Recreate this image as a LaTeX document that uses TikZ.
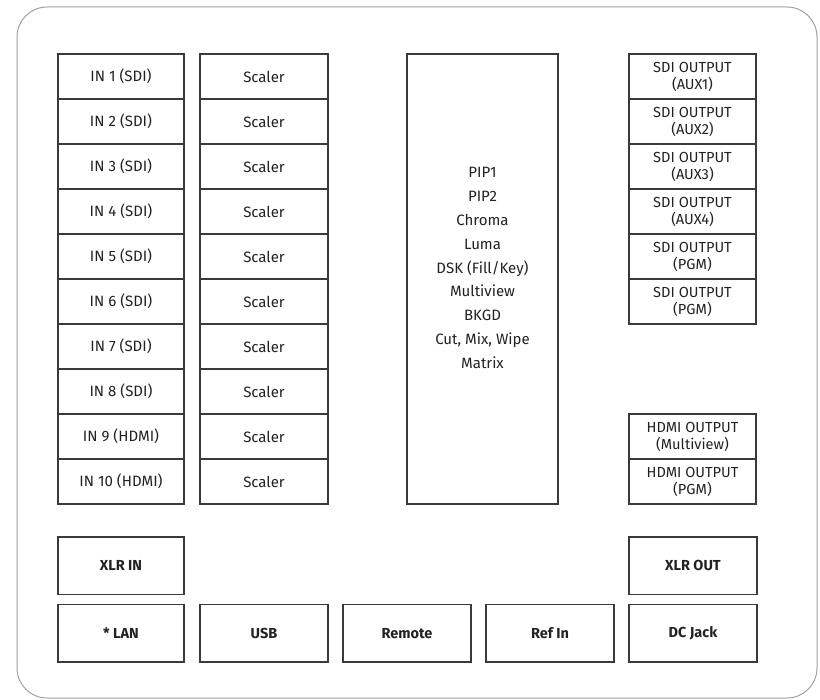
\documentclass[tikz,border=0pt]{standalone}
\usepackage{fontspec}
\setmainfont{Fira Sans}
\usetikzlibrary{positioning}
\definecolor{boxline}{HTML}{3A3A3A}
\definecolor{frameline}{HTML}{A0A0A0}
\definecolor{labeltext}{HTML}{222222}

\begin{document}
\begin{tikzpicture}[x=1pt,y=-1pt,
  port/.style={draw=boxline, line width=1.2pt, inner sep=0pt, outer sep=0pt,
    minimum width=128pt, minimum height=45pt, text=labeltext, align=center,
    font=\fontsize{15}{17}\selectfont},
  twoline/.style={port, minimum width=127pt, font=\fontsize{14.6}{17}\selectfont},
  jack/.style={port, minimum height=57.5pt, font=\fontsize{14.5}{17}\selectfont\bfseries}]

\useasboundingbox (0,0) rectangle (820,700);
% outer housing
\draw[frameline, line width=1pt, rounded corners=30pt] (17,7) rectangle (817,698);

% define the input column
  \node[port, minimum width=126pt, anchor=north west] (in1) at (58,54) {IN 1 (SDI)};
  \node[port, minimum width=126pt] (in2) [below=0pt of in1] {IN 2 (SDI)};
  \node[port, minimum width=126pt] (in3) [below=0pt of in2] {IN 3 (SDI)};
  \node[port, minimum width=126pt] (in4) [below=0pt of in3] {IN 4 (SDI)};
  \node[port, minimum width=126pt] (in5) [below=0pt of in4] {IN 5 (SDI)};
  \node[port, minimum width=126pt] (in6) [below=0pt of in5] {IN 6 (SDI)};
  \node[port, minimum width=126pt] (in7) [below=0pt of in6] {IN 7 (SDI)};
  \node[port, minimum width=126pt] (in8) [below=0pt of in7] {IN 8 (SDI)};
  \node[port, minimum width=126pt] (in9) [below=0pt of in8] {IN 9 (HDMI)};
  \node[port, minimum width=126pt] (in10) [below=0pt of in9] {IN 10 (HDMI)};

% define the scaler column
  \foreach \i in {1,...,10}
    \node[port] (sc\i) [right=16pt of in\i] {Scaler};

% the processing block
  \node[port, minimum width=151pt, minimum height=450pt, anchor=north west] (core) at (407,54) {};
  \node[text=labeltext, align=center, font=\fontsize{15}{23.8}\selectfont] (corelist)
    at ([yshift=11pt]core.center)
    {PIP1\\PIP2\\Chroma\\Luma\\DSK (Fill/Key)\\Multiview\\BKGD\\Cut, Mix, Wipe\\Matrix};

% define the output column
  \node[twoline, anchor=north west] (sdi1) at (629,54) {SDI OUTPUT\\(AUX1)};
  \node[twoline] (sdi2) [below=0pt of sdi1] {SDI OUTPUT\\(AUX2)};
  \node[twoline] (sdi3) [below=0pt of sdi2] {SDI OUTPUT\\(AUX3)};
  \node[twoline] (sdi4) [below=0pt of sdi3] {SDI OUTPUT\\(AUX4)};
  \node[twoline] (sdi5) [below=0pt of sdi4] {SDI OUTPUT\\(PGM)};
  \node[twoline] (sdi6) [below=0pt of sdi5] {SDI OUTPUT\\(PGM)};

  \node[twoline, anchor=north west] (hdmi1) at (629,414) {HDMI OUTPUT\\(Multiview)};
  \node[twoline] (hdmi2) [below=0pt of hdmi1] {HDMI OUTPUT\\(PGM)};

% define the jacks along the bottom
  \node[jack, minimum width=126pt, anchor=north west] (xlrin) at (58,537) {XLR IN};
  \node[jack, minimum width=126pt] (lan) [below=10pt of xlrin] {* LAN};
  \node[jack] (usb) [right=16pt of lan] {USB};
  \node[jack] (remote) [right=15pt of usb] {Remote};
  \node[jack] (refin) [right=15pt of remote] {Ref In};
  \node[jack] (dcjack) [right=15pt of refin] {DC Jack};
  \node[jack] (xlrout) [above=10pt of dcjack] {XLR OUT};

\end{tikzpicture}
\end{document}
